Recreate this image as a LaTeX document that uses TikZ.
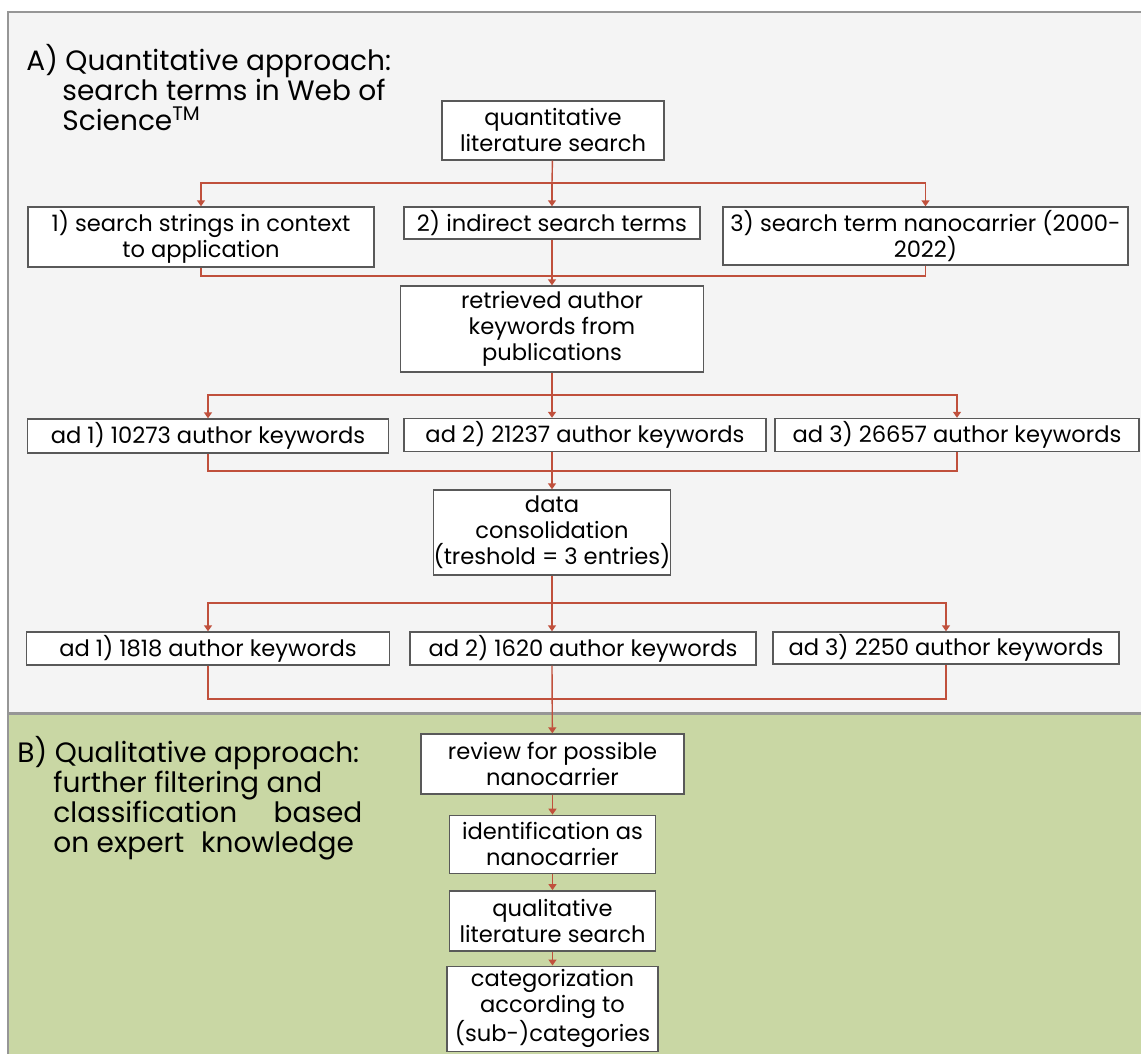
\documentclass[tikz,border=0pt]{standalone}
\usepackage{fontspec}
\setmainfont{Poppins}
\usetikzlibrary{positioning,calc,arrows.meta}

\definecolor{panelA}{RGB}{244,244,244}
\definecolor{panelB}{RGB}{201,215,164}
\definecolor{rim}{RGB}{150,150,150}
\definecolor{lnk}{RGB}{192,80,60}

\tikzset{
	box/.style={draw=black!65, line width=0.7pt, fill=white, align=center, inner sep=0pt,
		font=\fontsize{11.3}{13}\selectfont},
	heading/.style={align=left, inner sep=0pt, font=\fontsize{14}{15}\selectfont},
	lnk/.style={draw=lnk, line width=0.7pt},
	>={Triangle[length=3pt,width=4pt]}
}

\begin{document}
\begin{tikzpicture}[x=0.5pt,y=-0.5pt]
		\useasboundingbox (0,0) rectangle (1141,1054);
		\fill[panelA] (8,12) rectangle (1141,713);
		\fill[panelB] (8,713) rectangle (1141,1054);
		\draw[rim, line width=0.8pt] (1141,12) -- (8,12) -- (8,1054);
		\draw[rim, line width=1.5pt] (8,713) -- (1141,713);
		\node[heading, anchor=north west] (tA) at (26,44) {A) Quantitative approach:\\
			\hspace*{18pt}search terms in Web of\\
			\hspace*{18pt}Science\textsuperscript{TM}};
		\node[heading, anchor=north west] (tB) at (17,736) {B) Qualitative approach:\\
			\hspace*{18pt}further filtering and\\
			\hspace*{18pt}classification\hspace{1.3em}based\\
			\hspace*{18pt}on expert\hspace{0.6em}knowledge};
		\node[box, minimum width=111pt, minimum height=29.5pt] (q) at (553,130.5) {quantitative\\literature search};
		\node[box, minimum width=173pt, minimum height=30pt] (s1) at (201,237) {1) search strings in context\\to application};
		\node[box, minimum width=148pt, minimum height=16pt] (s2) at (552,223) {2) indirect search terms};
		\node[box, minimum width=202.5pt, minimum height=29pt] (s3) at (925.5,236) {3) search term nanocarrier (2000-\\2022)};
		\node[box, minimum width=151.5pt, minimum height=43pt] (ret) at (552,329) {retrieved author\\keywords from\\publications};
		\node[box, minimum width=180.5pt, minimum height=17pt] (a1) at (208,436) {ad 1) 10273 author keywords};
		\node[box, minimum width=181pt, minimum height=16.5pt] (a2) at (585,435) {ad 2) 21237 author keywords};
		\node[box, minimum width=182pt, minimum height=16.5pt] (a3) at (957,435) {ad 3) 26657 author keywords};
		\node[box, minimum width=116pt, minimum height=42.5pt] (dc) at (552,532.5) {data\\consolidation\\(treshold = 3 entries)};
		\node[box, minimum width=181.5pt, minimum height=16.5pt] (b1) at (208,648.5) {ad 1) 1818 author keywords};
		\node[box, minimum width=173pt, minimum height=16.5pt] (b2) at (583,648.5) {ad 2) 1620 author keywords};
		\node[box, minimum width=173pt, minimum height=16pt] (b3) at (946,648) {ad 3) 2250 author keywords};
		\node[box, minimum width=131.5pt, minimum height=30pt] (r1) at (552.5,764) {review for possible\\nanocarrier};
		\node[box, minimum width=103pt, minimum height=29pt, below = 10pt of r1] (r2) {identification as\\nanocarrier};
		\node[box, minimum width=103pt, minimum height=30pt, below = 8pt of r2] (r3) {qualitative\\literature search};
		\node[box, minimum width=105.5pt, minimum height=42.5pt, below = 7pt of r3] (r4) {categorization\\according to\\(sub-)categories};
		\coordinate (j1) at (552,183);
		\coordinate (m1) at (552,276);
		\coordinate (j2) at (552,395);
		\coordinate (m2) at (552,471);
		\coordinate (j3) at (552,603);
		\coordinate (m3) at (552,699);
		\draw[lnk] (q) -- (j1);
		\draw[lnk, ->] (j1) -| (s1);
		\draw[lnk, ->] (j1) -- (s2);
		\draw[lnk, ->] (j1) -| (s3);
		\draw[lnk] (s1) |- (m1) -| (s3);
		\draw[lnk, ->] (s2) -- (ret);
		\draw[lnk] (ret) -- (j2);
		\draw[lnk, ->] (j2) -| (a1);
		\draw[lnk, ->] (j2) -- (j2 |- a2.north);
		\draw[lnk, ->] (j2) -| (a3);
		\draw[lnk] (a1) |- (m2) -| (a3);
		\draw[lnk, ->] (a2.south -| m2) -- (dc);
		\draw[lnk] (dc) -- (j3);
		\draw[lnk, ->] (j3) -| (b1);
		\draw[lnk, ->] (j3) -- (j3 |- b2.north);
		\draw[lnk, ->] (j3) -| (b3);
		\draw[lnk] (b1) |- (m3) -| (b3);
		\draw[lnk, ->] (b2.south -| m3) -- (r1);
		\draw[lnk, ->] (r1) -- (r2);
		\draw[lnk, ->] (r2) -- (r3);
		\draw[lnk, ->] (r3) -- (r4);
\end{tikzpicture}
\end{document}
